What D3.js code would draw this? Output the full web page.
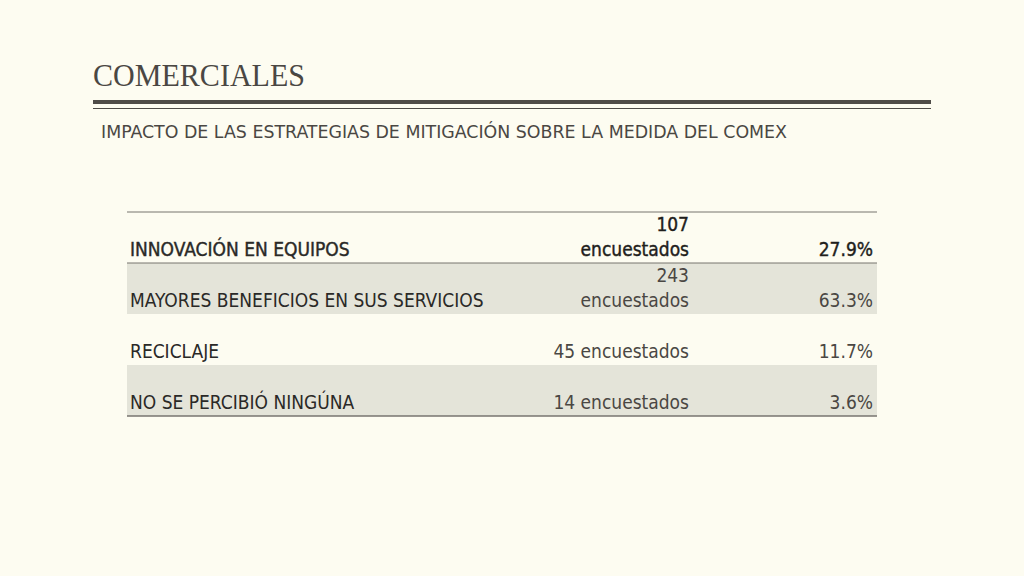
<!DOCTYPE html>
<html><head><meta charset="utf-8">
<script src="https://cdn.jsdelivr.net/npm/d3@7"></script>
<style>body{margin:0;background:#fdfcf1}</style>
</head><body>
<script>
const categories=["INNOVACIÓN EN EQUIPOS","MAYORES BENEFICIOS EN SUS SERVICIOS","RECICLAJE","NO SE PERCIBIÓ NINGÚNA"];
const counts=[107,243,45,14];
const percents=["27.9%","63.3%","11.7%","3.6%"];
const W=1024,H=576;
const svg=d3.select("body").append("svg").attr("width",W).attr("height",H);
svg.append("rect").attr("width",W).attr("height",H).attr("fill","#fdfcf1");
svg.append("text").attr("x",93).attr("y",86).text("COMERCIALES")
  .attr("font-family","Liberation Serif").attr("font-size",31).attr("fill","#4a4743")
  .attr("textLength",212).attr("lengthAdjust","spacingAndGlyphs");
svg.append("rect").attr("x",93).attr("y",100).attr("width",838).attr("height",4).attr("fill","#4f4c48");
svg.append("rect").attr("x",93).attr("y",108).attr("width",838).attr("height",1).attr("fill","#4f4c48");
svg.append("text").attr("x",101).attr("y",138).text("IMPACTO DE LAS ESTRATEGIAS DE MITIGACIÓN SOBRE LA MEDIDA DEL COMEX")
  .attr("font-family","DejaVu Sans Condensed").attr("font-size",18).attr("fill","#4a4743")
  .attr("textLength",686).attr("lengthAdjust","spacingAndGlyphs");

const y=d3.scaleBand().domain(d3.range(categories.length)).range([212,416]);
const font="DejaVu Sans Condensed";
const fs=19;
const g=svg.append("g");
const rows=g.selectAll("g").data(categories).join("g").attr("transform",(d,i)=>`translate(0,${y(i)})`);
rows.append("rect").attr("x",127).attr("width",750).attr("height",y.bandwidth())
  .attr("fill",(d,i)=>i%2? "#e4e4d9":"none");
const base=y.bandwidth()-7;
const col=i=>i===0?"#1f1e1c":"#4a4743";
rows.append("text").attr("x",130).attr("y",base).text(d=>d)
  .attr("font-family",font).attr("font-size",fs).attr("fill","#2a2927")
  .attr("stroke",(d,i)=>i===0?"#2a2927":"none").attr("stroke-width",0.4);
rows.each(function(d,i){
  const r=d3.select(this);
  const t=r.append("text").attr("text-anchor","end").attr("font-family",font).attr("font-size",fs)
    .attr("fill",col(i)).attr("stroke",i===0?col(i):"none").attr("stroke-width",0.4);
  if(counts[i]>=100){
    t.append("tspan").attr("x",689).attr("y",base-25).text(counts[i]);
    t.append("tspan").attr("x",689).attr("y",base).text("encuestados");
  } else t.attr("x",689).attr("y",base).text(counts[i]+" encuestados");
  r.append("text").attr("x",873).attr("y",base).attr("text-anchor","end").text(percents[i])
    .attr("font-family",font).attr("font-size",fs)
    .attr("fill",col(i)).attr("stroke",i===0?col(i):"none").attr("stroke-width",0.4);
});
g.append("line").attr("x1",127).attr("x2",877).attr("y1",212).attr("y2",212).attr("stroke","#77746f");
g.append("line").attr("x1",127).attr("x2",877).attr("y1",263).attr("y2",263).attr("stroke","#77746f");
g.append("line").attr("x1",127).attr("x2",877).attr("y1",416).attr("y2",416).attr("stroke","#77746f").attr("stroke-width",1.5);
</script>
</body></html>
